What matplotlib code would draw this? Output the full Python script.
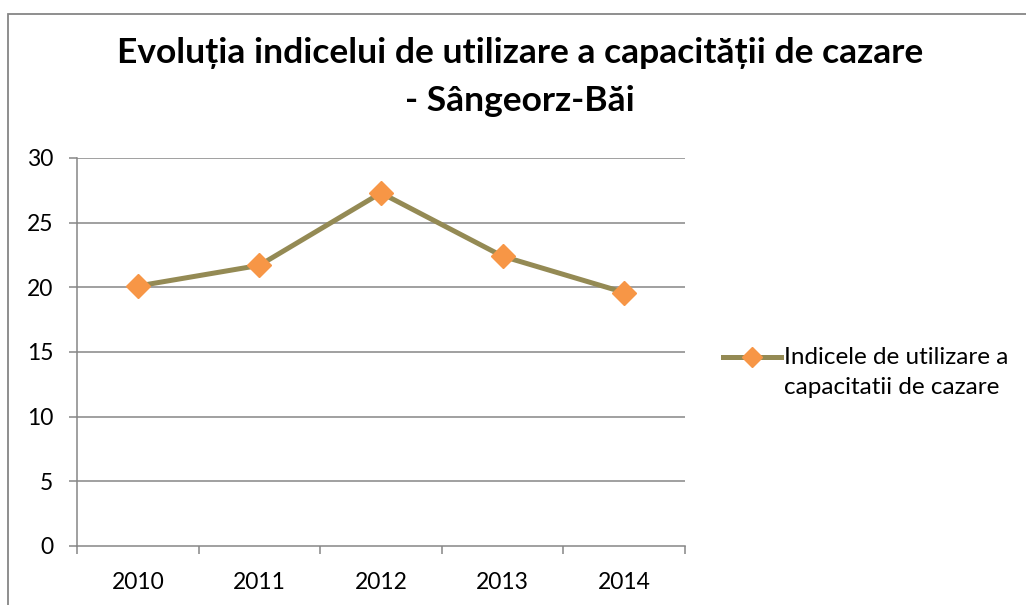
import matplotlib
matplotlib.use("Agg")
import matplotlib.pyplot as plt
from matplotlib.patches import Rectangle
import numpy as np

years = ["2010", "2011", "2012", "2013", "2014"]
values = [20.1, 21.7, 27.3, 22.4, 19.6]
series_label = "Indicele de utilizare a\ncapacitatii de cazare"
title = "Evoluția indicelui de utilizare a capacității de cazare\n- Sângeorz-Băi"
yticks = [0, 5, 10, 15, 20, 25, 30]

plt.rcParams['font.family'] = ['Lato', 'DejaVu Sans']

W, H = 1026, 605
fig = plt.figure(figsize=(W / 100, H / 100), dpi=100)

# outer chart border (cropped at right/bottom)
fig.patches.append(Rectangle((8 / W, -0.1), 1.2, 1 - 14 / H + 0.1, transform=fig.transFigure,
                             fill=False, edgecolor="#868686", linewidth=1.3))

ax = fig.add_axes([77 / W, 1 - 546 / H, (685 - 77) / W, (546 - 158) / H])
grid_c = "#868686"
x = np.arange(len(years))
ax.plot(x, values, color="#948A54", linewidth=3.6, marker="D", markersize=12,
        markerfacecolor="#F79646", markeredgecolor="#F79646", label=series_label, zorder=3)

ax.set_xlim(-0.5, len(years) - 0.5)
ax.set_ylim(0, 30)
ax.set_yticks(yticks)
ax.set_yticklabels([str(v) for v in yticks])
for v in yticks[1:]:
    ax.axhline(v, color=grid_c, linewidth=1.1, zorder=1)

ax.set_xticks(x)
ax.set_xticklabels(years)
ax.set_xticks(np.arange(-0.5, len(years)), minor=True)
ax.tick_params(axis="x", which="major", length=0, pad=19, labelsize=16.5)
ax.tick_params(axis="x", which="minor", length=6, width=1.1, color=grid_c, direction="out")
ax.tick_params(axis="y", length=6, width=1.1, color=grid_c, pad=11, labelsize=16.5)

for s in ["top", "right"]:
    ax.spines[s].set_visible(False)
for s in ["left", "bottom"]:
    ax.spines[s].set_color(grid_c)
    ax.spines[s].set_linewidth(1.1)

fig.text(0.507, 1 - 37 / H, title, ha="center", va="top", fontsize=25.5, fontweight="bold",
         linespacing=1.6)

leg = fig.legend(loc="upper left", bbox_to_anchor=(723 / W, 1 - 347 / H), frameon=False,
                 fontsize=17.5, handlelength=2.4, handletextpad=0.12, handleheight=1.0,
                 borderpad=0, borderaxespad=0)
for t in leg.get_texts():
    t.set_linespacing(1.55)
for col in leg._legend_handle_box.get_children():
    for hp in col.get_children():
        hp.align = "top"
for h in leg.legend_handles:
    h.set_markersize(10)

fig.savefig("out.png", dpi=100)
